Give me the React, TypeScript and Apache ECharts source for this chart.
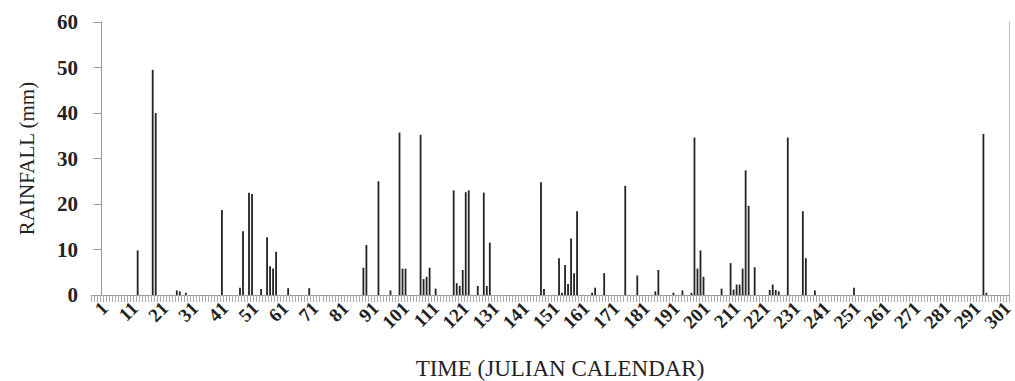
import React, { useEffect, useRef } from "react";
import * as echarts from "echarts";

// Julian day of each rain event and its rainfall (mm)
const days = [
  12, 17, 18, 25, 26, 28, 40, 46, 47, 49, 50, 53, 55, 56, 57, 58, 62, 69, 87, 88, 92, 96,
  99, 100, 101, 106, 107, 108, 109, 111, 117, 118, 119, 120, 121, 122, 125, 127, 128, 129,
  146, 147, 152, 153, 154, 155, 156, 157, 158, 163, 164, 167, 174, 178, 184, 185, 190, 193,
  196, 197, 198, 199, 200, 206, 209, 210, 211, 212, 213, 214, 215, 217, 222, 223, 224, 225,
  228, 233, 234, 237, 250, 293, 294,
];
const rainfall = [
  9.8, 49.5, 40, 1.0, 0.8, 0.5, 18.7, 1.6, 14, 22.5, 22.2, 1.3, 12.7, 6.3, 5.8, 9.5, 1.5, 1.5,
  6, 11, 25, 1, 35.7, 5.8, 5.8, 35.2, 3.5, 4, 6, 1.4, 23, 2.6, 2, 5.5, 22.6, 23, 2, 22.5, 2,
  11.5, 24.8, 1.3, 8.1, 0.5, 6.6, 2.4, 12.4, 4.8, 18.4, 0.5, 1.6, 4.8, 24, 4.3, 0.8, 5.5, 0.5,
  1, 0.5, 34.6, 5.8, 9.8, 4, 1.4, 7, 1.2, 2.3, 2.3, 5.8, 27.4, 19.6, 6.1, 1.1, 2.3, 1.1, 0.8,
  34.6, 18.4, 8.1, 1, 1.6, 35.4, 0.5,
];
const dayLabels = [
  1, 11, 21, 31, 41, 51, 61, 71, 81, 91, 101, 111, 121, 131, 141, 151, 161, 171, 181, 191,
  201, 211, 221, 231, 241, 251, 261, 271, 281, 291, 301,
];
const yTicks = [0, 10, 20, 30, 40, 50, 60];

const X_MIN = -3.5;
const X_MAX = 301.5;
const FONT = "'Liberation Serif', 'Times New Roman', serif";

export default function App() {
  const ref = useRef<HTMLDivElement>(null);
  useEffect(() => {
    if (!ref.current) return;
    const chart = echarts.init(ref.current, undefined, { renderer: "svg" });
    const tickVals: number[] = [];
    for (let v = X_MIN; v <= X_MAX + 1e-9; v += 1) tickVals.push(v);
    chart.setOption({
      animation: false,
      backgroundColor: "#fff",
      grid: {
        left: 91,
        right: 6,
        top: 22,
        bottom: 86,
        containLabel: false,
        outerBoundsMode: "none",
      },
      xAxis: {
        type: "value",
        min: X_MIN,
        max: X_MAX,
        name: "TIME (JULIAN CALENDAR)",
        nameLocation: "middle",
        nameGap: 62,
        nameTextStyle: {
          fontFamily: FONT,
          fontSize: 23,
          color: "#222",
          padding: [0, 0, 0, 20],
        },
        axisLine: { show: true, lineStyle: { color: "#999", width: 1 } },
        axisTick: {
          show: true,
          customValues: tickVals,
          length: 7,
          inside: false,
          lineStyle: { color: "#aaa", width: 1 },
        },
        axisLabel: {
          customValues: dayLabels,
          rotate: 45,
          margin: 10,
          fontFamily: FONT,
          fontSize: 19,
          fontWeight: "bold",
          color: "#222",
        },
        splitLine: { show: false },
      },
      yAxis: [
        {
          type: "value",
          min: yTicks[0],
          max: yTicks[yTicks.length - 1],
          interval: 10,
          name: "RAINFALL (mm)",
          nameLocation: "middle",
          nameGap: 54,
          nameTextStyle: { fontFamily: FONT, fontSize: 21, color: "#222" },
          axisLine: { show: true, lineStyle: { color: "#999", width: 1 } },
          axisTick: { show: true, length: 8, lineStyle: { color: "#999" } },
          axisLabel: {
            margin: 13,
            fontFamily: FONT,
            fontSize: 21,
            fontWeight: "bold",
            color: "#222",
          },
          splitLine: { show: false },
        },
        {
          type: "value",
          position: "right",
          min: 0,
          max: 60,
          interval: 10,
          axisLine: { show: true, lineStyle: { color: "#bbb", width: 1 } },
          axisTick: { show: false },
          axisLabel: { show: false },
          splitLine: { show: false },
        },
      ],
      series: [
        {
          type: "bar",
          yAxisIndex: 0,
          barWidth: 1.8,
          itemStyle: { color: "#222" },
          data: days.map((d, i) => [d, rainfall[i]]),
        },
      ],
    });
    return () => chart.dispose();
  }, []);
  return (
    <div
      ref={ref}
      style={{ position: "fixed", left: 0, top: 0, width: 1015, height: 381, background: "#fff" }}
    />
  );
}
